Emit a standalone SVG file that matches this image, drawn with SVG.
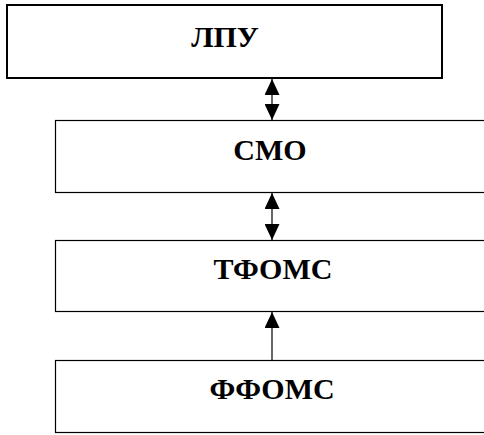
<svg xmlns="http://www.w3.org/2000/svg" width="484" height="435" viewBox="0 0 484 435">
<style>
.box{fill:#fff;stroke:#000;stroke-width:1.2}
.lbl{font-family:"Liberation Serif","Times New Roman",serif;font-weight:bold;font-size:30px;text-anchor:middle;fill:#000}
.ln{stroke:#000;stroke-width:1.2;fill:none}
</style>
<defs>
<marker id="ah" viewBox="0 0 16 15" refX="16" refY="7.5" markerWidth="16" markerHeight="15" markerUnits="userSpaceOnUse" orient="auto-start-reverse">
<path d="M0,0 L16,7.5 L0,15 Z" fill="#000"/>
</marker>
</defs>
<rect width="484" height="435" fill="#fff"/>
<g id="lpu">
<rect class="box" x="7" y="5" width="435" height="73" style="stroke-width:2"/>
<text class="lbl" x="225" y="47">ЛПУ</text>
</g>
<g id="smo">
<rect class="box" x="55.5" y="120.5" width="440" height="72"/>
<text class="lbl" x="270" y="160">СМО</text>
</g>
<g id="tfoms">
<rect class="box" x="55.5" y="240.5" width="440" height="71"/>
<text class="lbl" x="273" y="279">ТФОМС</text>
</g>
<g id="ffoms">
<rect class="box" x="55.5" y="360.5" width="440" height="72"/>
<text class="lbl" x="272" y="399">ФФОМС</text>
</g>
<g id="connectors">
<line class="ln" x1="272" y1="79" x2="272" y2="120" marker-start="url(#ah)" marker-end="url(#ah)"/>
<line class="ln" x1="272" y1="193" x2="272" y2="240" marker-start="url(#ah)" marker-end="url(#ah)"/>
<line class="ln" x1="272" y1="360" x2="272" y2="312" marker-end="url(#ah)"/>
</g>
</svg>
